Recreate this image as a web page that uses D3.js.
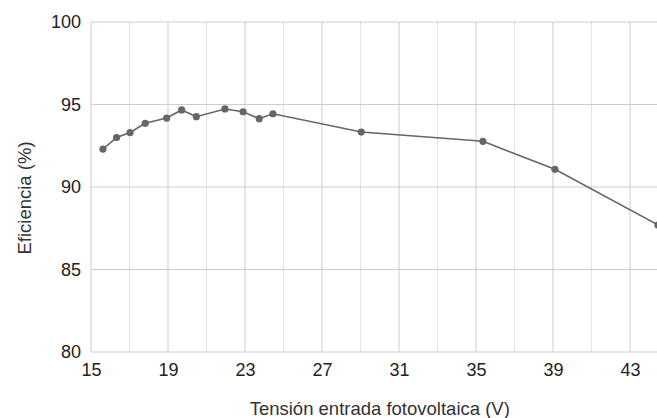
<!DOCTYPE html>
<html>
<head>
<meta charset="utf-8">
<script src="https://cdn.jsdelivr.net/npm/d3@7/dist/d3.min.js"></script>
<style>
html,body{margin:0;padding:0;background:#fff;overflow:hidden;}
svg{display:block;font-family:"Liberation Sans",Arial,sans-serif;}
</style>
</head>
<body>
<svg id="chart" width="657" height="418"></svg>
<script>
const voltage = [15.62, 16.33, 17.03, 17.82, 18.93, 19.71, 20.47, 21.96, 22.9, 23.74, 24.45, 29.04, 35.36, 39.1, 44.45];
const efficiency = [92.3, 93.0, 93.3, 93.86, 94.18, 94.67, 94.26, 94.73, 94.56, 94.14, 94.44, 93.33, 92.77, 91.07, 87.7];
const xTicks = [15, 19, 23, 27, 31, 35, 39, 43];
const xMinor = [17, 21, 25, 29, 33, 37, 41, 45];
const yTicks = [80, 85, 90, 95, 100];
const xTitle = "Tensión entrada fotovoltaica (V)";
const yTitle = "Eficiencia (%)";

(function () {
const svg = d3.select("#chart");
const mLeft = 91, mRight = 668.5, mTop = 22, mBottom = 352;
const x = d3.scaleLinear().domain([15, 45]).range([mLeft, mRight]);
const y = d3.scaleLinear().domain([80, 100]).range([mBottom, mTop]);

// minor vertical gridlines
svg.append("g").selectAll("line").data(xMinor).join("line")
  .attr("x1", d => x(d)).attr("x2", d => x(d))
  .attr("y1", mTop).attr("y2", mBottom)
  .attr("stroke", "#e3e3e3").attr("stroke-width", 1);

// major vertical gridlines
svg.append("g").selectAll("line").data(xTicks).join("line")
  .attr("x1", d => x(d)).attr("x2", d => x(d))
  .attr("y1", mTop).attr("y2", mBottom)
  .attr("stroke", "#cccccc").attr("stroke-width", 1);

// horizontal gridlines
svg.append("g").selectAll("line").data(yTicks).join("line")
  .attr("x1", mLeft).attr("x2", mRight)
  .attr("y1", d => y(d)).attr("y2", d => y(d))
  .attr("stroke", "#cccccc").attr("stroke-width", 1);

// y tick labels
const yAxis = d3.axisLeft(y).tickValues(yTicks).tickSize(0).tickPadding(10).tickFormat(d3.format("d"));
const gy = svg.append("g").attr("transform", `translate(${mLeft},0)`).call(yAxis);
gy.select(".domain").remove();
gy.selectAll("text").attr("font-size", 18).attr("fill", "#222").attr("font-family", "Liberation Sans, Arial, sans-serif");

// x tick labels
const xAxis = d3.axisBottom(x).tickValues(xTicks).tickSize(0).tickPadding(11).tickFormat(d3.format("d"));
const gx = svg.append("g").attr("transform", `translate(0,${mBottom})`).call(xAxis);
gx.select(".domain").remove();
gx.selectAll("text").attr("font-size", 18).attr("fill", "#222").attr("font-family", "Liberation Sans, Arial, sans-serif");

// line
const data = voltage.map((v, i) => ({v, e: efficiency[i]}));
const line = d3.line().x(d => x(d.v)).y(d => y(d.e));
svg.append("path").datum(data).attr("d", line)
  .attr("fill", "none").attr("stroke", "#666").attr("stroke-width", 1.6);
svg.append("g").selectAll("circle").data(data).join("circle")
  .attr("cx", d => x(d.v)).attr("cy", d => y(d.e)).attr("r", 3.6)
  .attr("fill", "#666");

// titles
svg.append("text").attr("x", (mLeft + mRight) / 2).attr("y", 409).attr("dy", "0.35em")
  .attr("text-anchor", "middle").attr("font-size", 18.5).attr("fill", "#333").text(xTitle);
svg.append("text").attr("transform", "translate(25,198) rotate(-90)").attr("dy", "0.35em")
  .attr("text-anchor", "middle").attr("font-size", 18.5).attr("fill", "#333").text(yTitle);
})();
</script>
</body>
</html>
